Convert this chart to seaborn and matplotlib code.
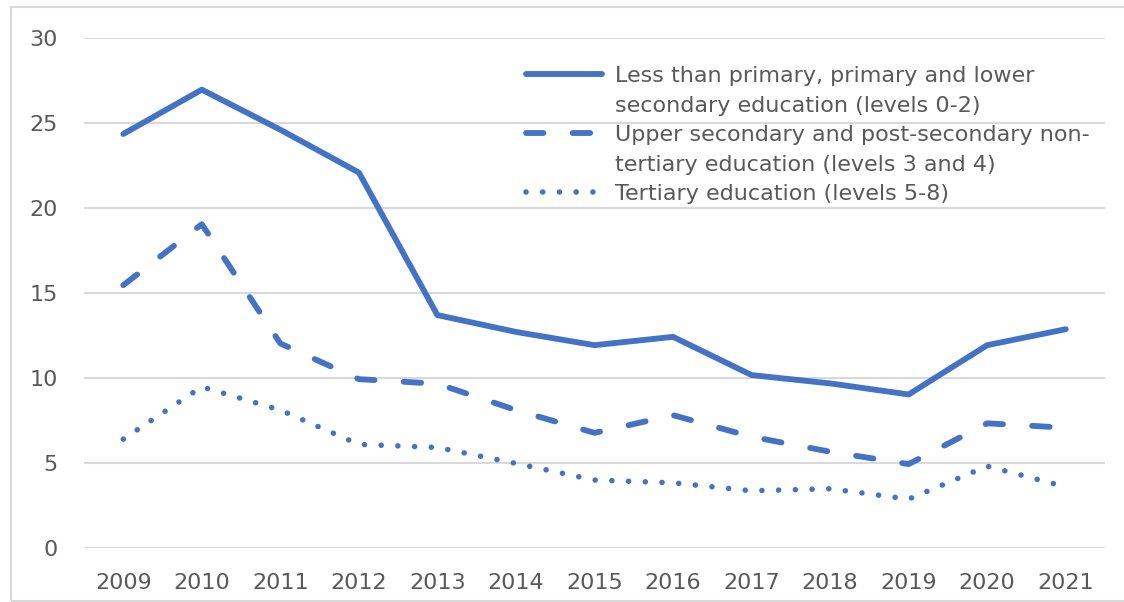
import pandas as pd
import matplotlib
matplotlib.use("Agg")
import matplotlib.pyplot as plt
import seaborn as sns
from matplotlib.lines import Line2D
from matplotlib.patches import Rectangle

years = list(range(2009, 2022))
low_edu = [24.35, 26.96, 24.6, 22.08, 13.69, 12.7, 11.92, 12.41, 10.16, 9.67, 9.02, 11.92, 12.86]
mid_edu = [15.45, 19.04, 12.02, 9.92, 9.65, 8.1, 6.76, 7.8, 6.53, 5.65, 4.92, 7.32, 7.06]
high_edu = [6.39, 9.47, 8.1, 6.08, 5.9, 4.96, 3.98, 3.82, 3.35, 3.47, 2.86, 4.8, 3.58]

labels = [
    "Less than primary, primary and lower\nsecondary education (levels 0-2)",
    "Upper secondary and post-secondary non-\ntertiary education (levels 3 and 4)",
    "Tertiary education (levels 5-8)",
]
blue = "#4472C4"
grey_text = "#595959"
grid_col = "#D9D9D9"

sns.set_style("white")
plt.rcParams["font.family"] = ["DejaVu Sans"]

fig = plt.figure(figsize=(11.24, 6.02), dpi=100)
ax = fig.add_axes([84 / 1124, (602 - 547.7) / 602, (1105 - 84) / 1124, (547.7 - 38) / 602])

lw = 4.2
series = [(low_edu, None, lw), (mid_edu, (3.0, 5.0), lw), (high_edu, (0.01, 3.0), 4.0)]
handles = []
for vals, dash, w in series:
    df = pd.DataFrame({"year": years, "value": vals})
    kw = dict(color=blue, linewidth=w, solid_capstyle="round", solid_joinstyle="round",
              dash_capstyle="round", dash_joinstyle="round")
    if dash is not None:
        kw["dashes"] = dash
    sns.lineplot(data=df, x="year", y="value", ax=ax, legend=False, **kw)
    handles.append(Line2D([], [], **kw))

ax.set_xlim(2008.5, 2021.5)
ax.set_ylim(0, 30)
ax.set_yticks(range(0, 31, 5))
ax.set_xticks(years)
ax.set_xticklabels([str(y) for y in years])
ax.set_xlabel("")
ax.set_ylabel("")
ax.grid(axis="y", color=grid_col, linewidth=1.5)
ax.set_axisbelow(True)
for s in ax.spines.values():
    s.set_visible(False)
ax.tick_params(axis="both", length=0, labelsize=16, labelcolor=grey_text)
ax.tick_params(axis="y", pad=19)
ax.tick_params(axis="x", pad=18)

# legend rows: handle only on first line of each entry
blank = Line2D([], [], color="none")
leg_handles = [handles[0], blank, handles[1], blank, handles[2]]
leg_labels = [labels[0].split("\n")[0], labels[0].split("\n")[1],
              labels[1].split("\n")[0], labels[1].split("\n")[1], labels[2]]
leg = fig.legend(leg_handles, leg_labels, loc="upper left",
                 bbox_to_anchor=(526 / 1124, 1 - 66 / 602), frameon=False,
                 fontsize=16, handlelength=3.4, handletextpad=0.62,
                 labelspacing=0.43, borderpad=0, borderaxespad=0)
for t in leg.get_texts():
    t.set_color(grey_text)

fig.patches.append(Rectangle((11 / 1124, 1 / 602), 1.5, 1 - 8 / 602, transform=fig.transFigure,
                             fill=False, edgecolor=grid_col, linewidth=1.5))

fig.savefig("out.png", dpi=100)
